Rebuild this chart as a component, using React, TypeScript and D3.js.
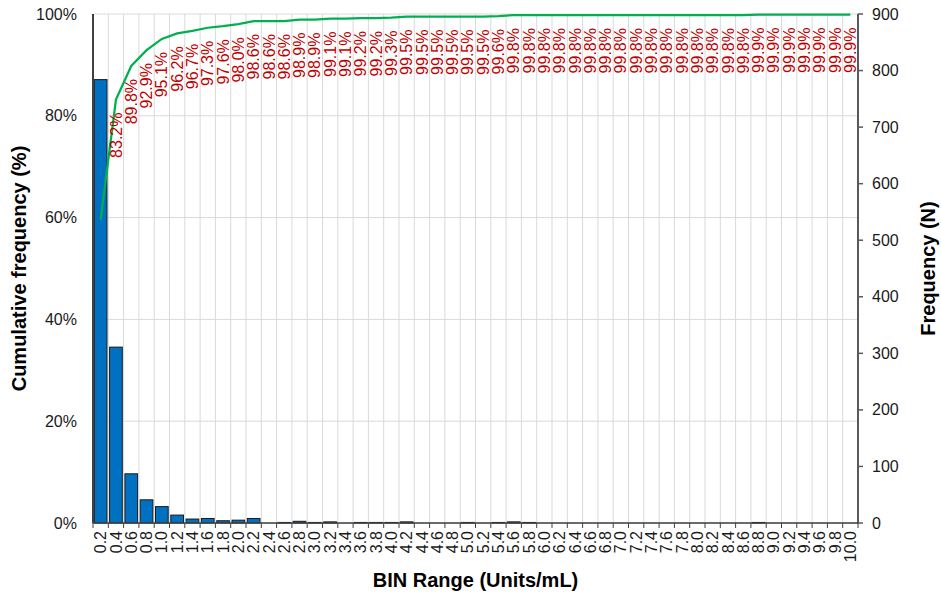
import React from "react";
import * as d3 from "d3";

// BIN upper edges (Units/mL)
const bins = [
  "0.2", "0.4", "0.6", "0.8", "1.0", "1.2", "1.4", "1.6", "1.8", "2.0",
  "2.2", "2.4", "2.6", "2.8", "3.0", "3.2", "3.4", "3.6", "3.8", "4.0",
  "4.2", "4.4", "4.6", "4.8", "5.0", "5.2", "5.4", "5.6", "5.8", "6.0",
  "6.2", "6.4", "6.6", "6.8", "7.0", "7.2", "7.4", "7.6", "7.8", "8.0",
  "8.2", "8.4", "8.6", "8.8", "9.0", "9.2", "9.4", "9.6", "9.8", "10.0",
];

// Frequency (N) per bin
const frequency = [
  784, 311, 87, 41, 29, 14, 7, 8, 4, 5,
  8, 0, 1, 3, 1, 2, 0, 1, 1, 1,
  2, 0, 0, 0, 1, 0, 1, 2, 1, 0,
  0, 0, 0, 0, 0, 0, 0, 0, 0, 0,
  0, 0, 0, 1, 0, 0, 0, 0, 0, 0,
];

// Cumulative frequency (%) per bin
const cumulative = [
  59.6, 83.2, 89.8, 92.9, 95.1, 96.2, 96.7, 97.3, 97.6, 98.0,
  98.6, 98.6, 98.6, 98.9, 98.9, 99.1, 99.1, 99.2, 99.2, 99.3,
  99.5, 99.5, 99.5, 99.5, 99.5, 99.5, 99.6, 99.8, 99.8, 99.8,
  99.8, 99.8, 99.8, 99.8, 99.8, 99.8, 99.8, 99.8, 99.8, 99.8,
  99.8, 99.8, 99.8, 99.9, 99.9, 99.9, 99.9, 99.9, 99.9, 99.9,
];

const pctTicks = [0, 20, 40, 60, 80, 100];
const freqTicks = [0, 100, 200, 300, 400, 500, 600, 700, 800, 900];

const W = 941;
const H = 594;
const left = 93;
const right = 858;
const top = 14;
const bottom = 523;
const FONT = "'Liberation Sans', Arial, sans-serif";

export default function App() {
  const x = d3
    .scaleBand<string>()
    .domain(bins)
    .range([left, right])
    .paddingInner(0.17)
    .paddingOuter(0.085);
  const step = x.step();
  const bandStart = (b: string) => (x(b) as number) - step * 0.085;
  const center = (b: string) => (x(b) as number) + x.bandwidth() / 2;

  const yPct = d3.scaleLinear().domain([0, 100]).range([bottom, top]);
  const yFreq = d3.scaleLinear().domain([0, 900]).range([bottom, top]);

  const line = d3
    .line<number>()
    .x((_, i) => center(bins[i]))
    .y((d) => yPct(d));

  const boundaries = bins.map((b) => bandStart(b)).concat([right]);

  return (
    <svg
      width={W}
      height={H}
      style={{ position: "absolute", left: 0, top: 0, background: "#fff" }}
      fontFamily={FONT}
    >
      {/* grid */}
      {pctTicks.map((t) => (
        <line
          key={"h" + t}
          x1={left}
          x2={right}
          y1={yPct(t)}
          y2={yPct(t)}
          stroke="#d9d9d9"
          strokeWidth={1}
        />
      ))}
      {boundaries.map((bx, i) => (
        <line
          key={"v" + i}
          x1={bx}
          x2={bx}
          y1={top}
          y2={bottom}
          stroke="#d9d9d9"
          strokeWidth={1}
        />
      ))}

      {/* frequency bars */}
      {frequency.map((f, i) =>
        f > 0 ? (
          <rect
            key={"b" + i}
            x={x(bins[i])}
            y={yFreq(f)}
            width={x.bandwidth()}
            height={bottom - yFreq(f)}
            fill="#0070C0"
            stroke="#1a1a1a"
            strokeWidth={1}
          />
        ) : null
      )}

      {/* axes */}
      <line x1={left} x2={left} y1={top} y2={bottom} stroke="#404040" strokeWidth={2} />
      <line x1={right} x2={right} y1={top} y2={bottom + 1} stroke="#595959" strokeWidth={2} />
      <line x1={left} x2={right} y1={bottom} y2={bottom} stroke="#404040" strokeWidth={1.5} />
      {boundaries.map((bx, i) => (
        <line
          key={"xt" + i}
          x1={bx}
          x2={bx}
          y1={bottom}
          y2={bottom + 5}
          stroke="#404040"
          strokeWidth={1}
        />
      ))}
      {freqTicks.map((t) => (
        <line
          key={"rt" + t}
          x1={right}
          x2={right + 5}
          y1={yFreq(t)}
          y2={yFreq(t)}
          stroke="#595959"
          strokeWidth={1.5}
        />
      ))}

      {/* cumulative line */}
      <path d={line(cumulative) || ""} fill="none" stroke="#00B050" strokeWidth={2.25} />

      {/* cumulative labels */}
      {cumulative.map((c, i) =>
        i === 0 ? null : (
          <text
            key={"cl" + i}
            transform={`translate(${center(bins[i])},${yPct(c) + 13}) rotate(-90)`}
            textAnchor="end"
            dy="0.35em"
            fontSize={16}
            fill="#C00000"
          >
            {c.toFixed(1)}%
          </text>
        )
      )}

      {/* left tick labels */}
      {pctTicks.map((t) => (
        <text
          key={"lt" + t}
          x={77}
          y={yPct(t)}
          dy="0.35em"
          textAnchor="end"
          fontSize={16}
          fill="#1a1a1a"
        >
          {t}%
        </text>
      ))}

      {/* right tick labels */}
      {freqTicks.map((t) => (
        <text
          key={"rl" + t}
          x={872}
          y={yFreq(t)}
          dy="0.35em"
          textAnchor="start"
          fontSize={16}
          fill="#1a1a1a"
        >
          {t}
        </text>
      ))}

      {/* x tick labels */}
      {bins.map((b) => (
        <text
          key={"xl" + b}
          transform={`translate(${center(b)},${bottom + 8}) rotate(-90)`}
          textAnchor="end"
          dy="0.35em"
          fontSize={16}
          fill="#1a1a1a"
        >
          {b}
        </text>
      ))}

      {/* axis titles */}
      <text
        transform={`translate(19,${(top + bottom) / 2}) rotate(-90)`}
        textAnchor="middle"
        dy="0.35em"
        fontSize={20}
        fontWeight="bold"
        fill="#000"
      >
        Cumulative frequency (%)
      </text>
      <text
        transform={`translate(928,${(top + bottom) / 2}) rotate(-90)`}
        textAnchor="middle"
        dy="0.35em"
        fontSize={20}
        fontWeight="bold"
        fill="#000"
      >
        Frequency (N)
      </text>
      <text
        x={(left + right) / 2}
        y={587}
        textAnchor="middle"
        fontSize={20}
        fontWeight="bold"
        fill="#000"
      >
        BIN Range (Units/mL)
      </text>
    </svg>
  );
}
